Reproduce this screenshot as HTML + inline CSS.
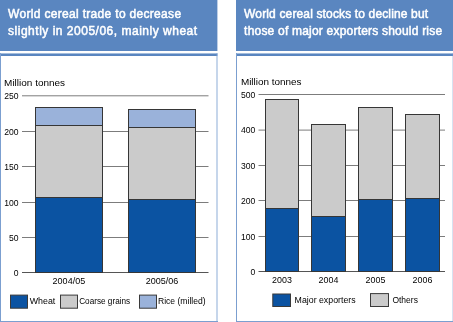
<!DOCTYPE html>
<html><head><meta charset="utf-8"><style>
html,body{margin:0;padding:0;background:#fff;width:453px;height:322px;overflow:hidden}
svg{display:block;will-change:transform;font-family:"Liberation Sans",sans-serif;fill:#000}
</style></head><body>
<svg width="453" height="322" viewBox="0 0 453 322">
<rect x="0" y="0" width="217.4" height="51" fill="#5a86c0"/>
<rect x="0" y="53" width="217.4" height="1" fill="#5a86c0" fill-opacity="0.55"/>
<rect x="0" y="54" width="217.4" height="2" fill="#5a86c0"/>
<rect x="0" y="53" width="1" height="269" fill="#7b9fd0"/>
<rect x="216.5" y="53" width="1" height="269" fill="#7b9fd0" fill-opacity="0.85"/>
<rect x="0" y="321" width="218" height="1" fill="#7b9fd0"/>
<text x="8.1" y="17.6" font-size="12" fill="#fff" stroke="#fff" stroke-width="0.5" textLength="173" lengthAdjust="spacing">World cereal trade to decrease</text>
<text x="8.1" y="34.8" font-size="12" fill="#fff" stroke="#fff" stroke-width="0.5" textLength="189" lengthAdjust="spacing">slightly in 2005/06, mainly wheat</text>
<rect x="236" y="0" width="217" height="51" fill="#5a86c0"/>
<rect x="236" y="53" width="217" height="1" fill="#5a86c0" fill-opacity="0.55"/>
<rect x="236" y="54" width="217" height="2" fill="#5a86c0"/>
<rect x="236" y="53" width="1" height="269" fill="#7b9fd0"/>
<rect x="452" y="53" width="1" height="269" fill="#7b9fd0" fill-opacity="0.3"/>
<rect x="236" y="321" width="217" height="1" fill="#7b9fd0"/>
<text x="244.1" y="17.6" font-size="12" fill="#fff" stroke="#fff" stroke-width="0.5" textLength="184" lengthAdjust="spacing">World cereal stocks to decline but</text>
<text x="244.1" y="34.8" font-size="12" fill="#fff" stroke="#fff" stroke-width="0.5" textLength="198" lengthAdjust="spacing">those of major exporters should rise</text>
<text x="4.1" y="86" text-anchor="start" font-size="8.6"  textLength="61" lengthAdjust="spacingAndGlyphs">Million tonnes</text>
<line x1="22" y1="95.8" x2="208.5" y2="95.8" stroke="#7c7c7c" stroke-width="1"/>
<text x="18.6" y="98.8" text-anchor="end" font-size="8.6" >250</text>
<line x1="22" y1="131.5" x2="208.5" y2="131.5" stroke="#7c7c7c" stroke-width="1"/>
<text x="18.6" y="134.5" text-anchor="end" font-size="8.6" >200</text>
<line x1="22" y1="166.5" x2="208.5" y2="166.5" stroke="#7c7c7c" stroke-width="1"/>
<text x="18.6" y="169.5" text-anchor="end" font-size="8.6" >150</text>
<line x1="22" y1="202.5" x2="208.5" y2="202.5" stroke="#7c7c7c" stroke-width="1"/>
<text x="18.6" y="205.5" text-anchor="end" font-size="8.6" >100</text>
<line x1="22" y1="237.5" x2="208.5" y2="237.5" stroke="#7c7c7c" stroke-width="1"/>
<text x="18.6" y="240.5" text-anchor="end" font-size="8.6" >50</text>
<line x1="22" y1="272.5" x2="208.5" y2="272.5" stroke="#555555" stroke-width="1"/>
<text x="18.6" y="275.5" text-anchor="end" font-size="8.6" >0</text>
<rect x="35.50" y="107.50" width="67.00" height="18.00" fill="#9ab2da" stroke="#363636" stroke-width="1"/>
<rect x="35.50" y="125.50" width="67.00" height="72.00" fill="#cbcbcb" stroke="#363636" stroke-width="1"/>
<rect x="35.50" y="197.50" width="67.00" height="75.00" fill="#0b53a2" stroke="#363636" stroke-width="1"/>
<rect x="128.50" y="109.50" width="67.00" height="18.00" fill="#9ab2da" stroke="#363636" stroke-width="1"/>
<rect x="128.50" y="127.50" width="67.00" height="72.00" fill="#cbcbcb" stroke="#363636" stroke-width="1"/>
<rect x="128.50" y="199.50" width="67.00" height="73.00" fill="#0b53a2" stroke="#363636" stroke-width="1"/>
<text x="68.9" y="283.9" text-anchor="middle" font-size="8.6"  textLength="32.6" lengthAdjust="spacingAndGlyphs">2004/05</text>
<text x="162.1" y="283.9" text-anchor="middle" font-size="8.6"  textLength="32.6" lengthAdjust="spacingAndGlyphs">2005/06</text>
<rect x="10.50" y="295.10" width="17.00" height="13.10" fill="#0b53a2" stroke="#3a3a3a" stroke-width="1"/>
<text x="29.7" y="304.1" text-anchor="start" font-size="8.6"  textLength="25.6" lengthAdjust="spacingAndGlyphs">Wheat</text>
<rect x="60.50" y="295.10" width="17.00" height="13.10" fill="#cbcbcb" stroke="#3a3a3a" stroke-width="1"/>
<text x="79.2" y="304.1" text-anchor="start" font-size="8.6"  textLength="51" lengthAdjust="spacingAndGlyphs">Coarse grains</text>
<rect x="139.50" y="295.10" width="17.00" height="13.10" fill="#9ab2da" stroke="#3a3a3a" stroke-width="1"/>
<text x="158" y="304.1" text-anchor="start" font-size="8.6"  textLength="47.6" lengthAdjust="spacingAndGlyphs">Rice (milled)</text>
<text x="240.9" y="84.7" text-anchor="start" font-size="8.6"  textLength="60.7" lengthAdjust="spacingAndGlyphs">Million tonnes</text>
<line x1="258.5" y1="94.5" x2="445" y2="94.5" stroke="#7c7c7c" stroke-width="1"/>
<text x="255.3" y="97.5" text-anchor="end" font-size="8.6" >500</text>
<line x1="258.5" y1="130.1" x2="445" y2="130.1" stroke="#7c7c7c" stroke-width="1"/>
<text x="255.3" y="133.1" text-anchor="end" font-size="8.6" >400</text>
<line x1="258.5" y1="165.5" x2="445" y2="165.5" stroke="#7c7c7c" stroke-width="1"/>
<text x="255.3" y="168.5" text-anchor="end" font-size="8.6" >300</text>
<line x1="258.5" y1="200.5" x2="445" y2="200.5" stroke="#7c7c7c" stroke-width="1"/>
<text x="255.3" y="203.5" text-anchor="end" font-size="8.6" >200</text>
<line x1="258.5" y1="236.5" x2="445" y2="236.5" stroke="#7c7c7c" stroke-width="1"/>
<text x="255.3" y="239.5" text-anchor="end" font-size="8.6" >100</text>
<line x1="258.5" y1="271.5" x2="445" y2="271.5" stroke="#555555" stroke-width="1"/>
<text x="255.3" y="274.5" text-anchor="end" font-size="8.6" >0</text>
<rect x="265.50" y="99.50" width="33.00" height="109.00" fill="#cbcbcb" stroke="#363636" stroke-width="1"/>
<rect x="265.50" y="208.50" width="33.00" height="63.00" fill="#0b53a2" stroke="#363636" stroke-width="1"/>
<rect x="311.50" y="124.50" width="34.00" height="92.00" fill="#cbcbcb" stroke="#363636" stroke-width="1"/>
<rect x="311.50" y="216.50" width="34.00" height="55.00" fill="#0b53a2" stroke="#363636" stroke-width="1"/>
<rect x="358.50" y="107.50" width="34.00" height="92.00" fill="#cbcbcb" stroke="#363636" stroke-width="1"/>
<rect x="358.50" y="199.50" width="34.00" height="72.00" fill="#0b53a2" stroke="#363636" stroke-width="1"/>
<rect x="405.50" y="114.50" width="34.00" height="84.00" fill="#cbcbcb" stroke="#363636" stroke-width="1"/>
<rect x="405.50" y="198.50" width="34.00" height="73.00" fill="#0b53a2" stroke="#363636" stroke-width="1"/>
<text x="282.0" y="283" text-anchor="middle" font-size="8.6"  textLength="19.8" lengthAdjust="spacingAndGlyphs">2003</text>
<text x="328.5" y="283" text-anchor="middle" font-size="8.6"  textLength="19.8" lengthAdjust="spacingAndGlyphs">2004</text>
<text x="375.5" y="283" text-anchor="middle" font-size="8.6"  textLength="19.8" lengthAdjust="spacingAndGlyphs">2005</text>
<text x="422.5" y="283" text-anchor="middle" font-size="8.6"  textLength="19.8" lengthAdjust="spacingAndGlyphs">2006</text>
<rect x="272.80" y="294.00" width="17.70" height="12.50" fill="#0b53a2" stroke="#3a3a3a" stroke-width="1"/>
<text x="294.6" y="302.8" text-anchor="start" font-size="8.6"  textLength="61" lengthAdjust="spacingAndGlyphs">Major exporters</text>
<rect x="370.50" y="293.60" width="18.00" height="12.90" fill="#cbcbcb" stroke="#3a3a3a" stroke-width="1"/>
<text x="392.4" y="302.8" text-anchor="start" font-size="8.6"  textLength="25.5" lengthAdjust="spacingAndGlyphs">Others</text>
</svg>
</body></html>
